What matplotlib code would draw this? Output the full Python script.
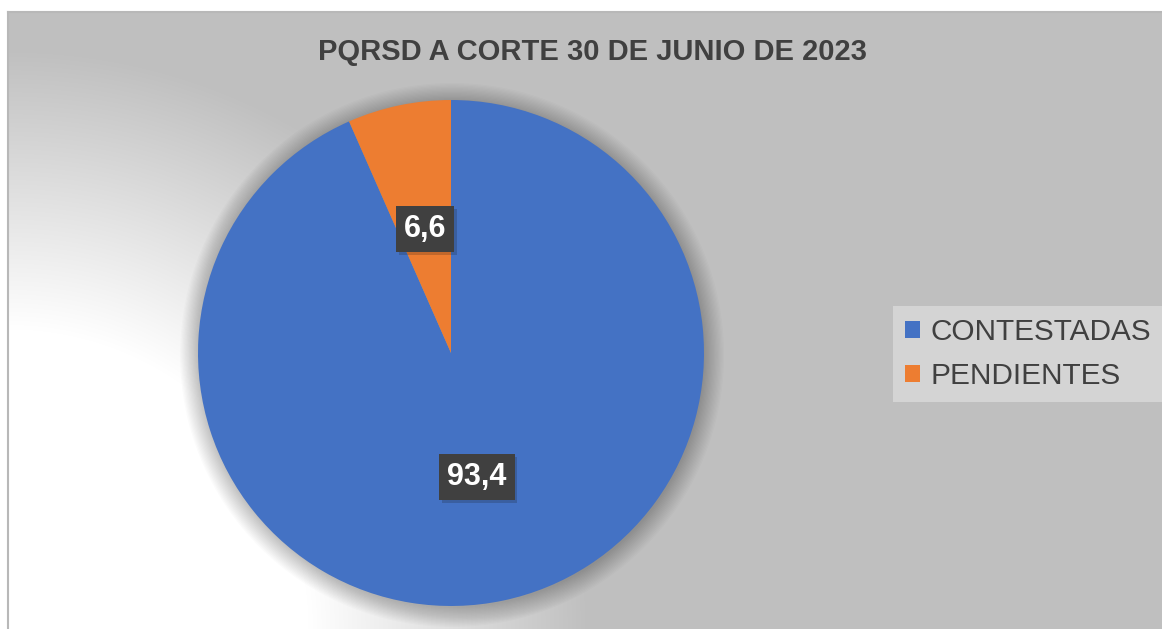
import matplotlib.pyplot as plt
import matplotlib.patheffects as pe
from matplotlib.patches import Circle
import numpy as np

categories = ["CONTESTADAS", "PENDIENTES"]
values = [93.4, 6.6]
colors = ["#4472c4", "#ed7d31"]
title = "PQRSD A CORTE 30 DE JUNIO DE 2023"

W, H = 1162, 629
fig = plt.figure(figsize=(W / 100, H / 100), dpi=100)
fig.patch.set_facecolor("white")

# chart area background: radial gradient, white at bottom-left
bg = fig.add_axes([8 / W, 0, 1 - 8 / W, (H - 12) / H])
yy, xx = np.mgrid[0:H - 12, 0:W - 8]
d = np.hypot(xx, (H - 12) - yy)
t = np.clip((d - 300) / 280, 0, 1)
shade = 1 - t * (1 - 0.75)
bg.imshow(np.dstack([shade, shade, shade]), aspect="auto", extent=(0, 1, 0, 1))
bg.set_xlim(0, 1)
bg.set_ylim(0, 1)
bg.set_xticks([])
bg.set_yticks([])
for side in ["right", "bottom"]:
    bg.spines[side].set_visible(False)
for side in ["left", "top"]:
    bg.spines[side].set_color("#b8b8b8")
    bg.spines[side].set_linewidth(1.5)

cx, cy, r = 451, 353, 253
ax = fig.add_axes([(cx - r) / W, (H - cy - r) / H, 2 * r / W, 2 * r / H])
ax.set_facecolor("none")

# soft shadow behind the pie
for k in range(16):
    ax.add_patch(Circle((0.004, -0.008), 1.0 + k * 0.005, color="black",
                        alpha=0.014, lw=0, clip_on=False, zorder=0))

wedges, texts = ax.pie(values, colors=colors, startangle=90, counterclock=False,
                       labels=[f"{v:.1f}".replace(".", ",") for v in values],
                       labeldistance=0.5, wedgeprops=dict(linewidth=0))
for txt in texts:
    txt.set_horizontalalignment("center")
    txt.set_verticalalignment("center")
    txt.set_color("white")
    txt.set_fontsize(22)
    txt.set_fontweight("bold")
    txt.set_family("Liberation Sans")
    txt.set_bbox(dict(boxstyle="square,pad=0.26", facecolor="#404040", edgecolor="none"))
    txt.get_bbox_patch().set_path_effects([pe.SimplePatchShadow(offset=(2, -2), alpha=0.2), pe.Normal()])
ax.set_xlim(-1, 1)
ax.set_ylim(-1, 1)

fig.text(592 / W, 1 - 52 / H, title, ha="center", va="center", fontsize=21,
         fontweight="bold", color="#404040", family="Liberation Sans")

leg = fig.legend(wedges, categories, loc="center left",
                 bbox_to_anchor=(893 / W, 1 - 354 / H),
                 prop=dict(family="Liberation Sans", size=21.4),
                 frameon=True, fancybox=False, facecolor="#d4d4d4", edgecolor="none",
                 framealpha=1, handlelength=0.5, handleheight=0.5, handletextpad=0.35,
                 labelspacing=0.55, borderpad=0.4, borderaxespad=0)
for t_ in leg.get_texts():
    t_.set_color("#404040")

fig.savefig("out.png", dpi=100)
